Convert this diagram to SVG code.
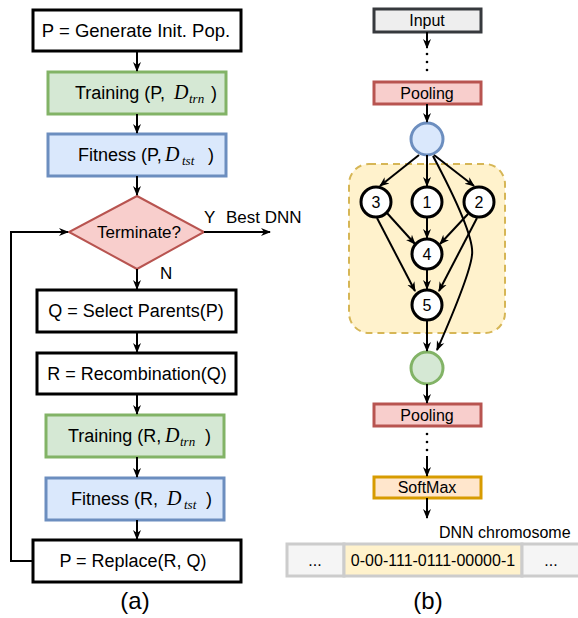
<svg xmlns="http://www.w3.org/2000/svg" width="578" height="618" viewBox="0 0 578 618">
  <style>
    text { font-family: "Liberation Sans", Arial, sans-serif; fill: #000; }
    .lbl { font-size: 17px; text-anchor: middle; }
    .sm { font-size: 16px; text-anchor: middle; }
    .cap { font-size: 24px; text-anchor: middle; }
    .math { font-family: "Liberation Serif", "Times New Roman", serif; font-style: italic; }
    .plain { fill: #fff; stroke: #000; stroke-width: 3; }
    .train { fill: #d5e8d4; stroke: #82b366; stroke-width: 3; }
    .fit { fill: #dae8fc; stroke: #6c8ebf; stroke-width: 3; }
    .pool { fill: #f8cecc; stroke: #b85450; stroke-width: 3; }
    .in { fill: #eeeeee; stroke: #36393d; stroke-width: 3; }
    .soft { fill: #ffe6cc; stroke: #d79b00; stroke-width: 3; }
    .op { fill: #fff; stroke: #000; stroke-width: 3; }
    .edge { fill: none; stroke: #000; stroke-width: 2; marker-end: url(#arr); }
    .seg { stroke: #cccccc; stroke-width: 3; }
  </style>
  <defs>
    <marker id="arr" viewBox="0 0 10 10" refX="9" refY="5" markerWidth="10" markerHeight="10" markerUnits="userSpaceOnUse" orient="auto">
      <path d="M0,1 L10,5 L0,9 L3,5 Z" fill="#000"/>
    </marker>
  </defs>

  <!-- (a) evolutionary loop -->
  <g id="init">
    <rect class="plain" x="33" y="10" width="208" height="41"/>
    <text class="lbl" x="136" y="37" style="font-size:18.5px">P = Generate Init. Pop.</text>
  </g>
  <g id="trainP">
    <rect class="train" x="48" y="72" width="178" height="42"/>
    <text x="75" y="99" style="font-size:18px">Training (P,</text>
    <text class="math" x="174" y="99" style="font-size:20px">D</text>
    <text class="math" x="189" y="103" style="font-size:13px">trn</text>
    <text x="211" y="99" style="font-size:18px">)</text>
  </g>
  <g id="fitP">
    <rect class="fit" x="48" y="134" width="178" height="42"/>
    <text x="78" y="161" style="font-size:18px">Fitness (P,</text>
    <text class="math" x="165" y="161" style="font-size:20px">D</text>
    <text class="math" x="182" y="165" style="font-size:13px">tst</text>
    <text x="208" y="161" style="font-size:18px">)</text>
  </g>
  <g id="terminate">
    <polygon points="137,196 204,232 137,269 69,232" fill="#f8cecc" stroke="#b85450" stroke-width="2"/>
    <text class="lbl" x="139" y="238">Terminate?</text>
  </g>
  <g id="select">
    <rect class="plain" x="37" y="290" width="199" height="42"/>
    <text class="lbl" x="136" y="317" style="font-size:18px">Q = Select Parents(P)</text>
  </g>
  <g id="recomb">
    <rect class="plain" x="37" y="353" width="199" height="41"/>
    <text class="lbl" x="137" y="380" style="font-size:18px">R = Recombination(Q)</text>
  </g>
  <g id="trainR">
    <rect class="train" x="46" y="415" width="178" height="42"/>
    <text x="68" y="442" style="font-size:18px">Training (R,</text>
    <text class="math" x="165" y="442" style="font-size:20px">D</text>
    <text class="math" x="180" y="446" style="font-size:13px">trn</text>
    <text x="205" y="442" style="font-size:18px">)</text>
  </g>
  <g id="fitR">
    <rect class="fit" x="46" y="478" width="178" height="42"/>
    <text x="71" y="505" style="font-size:18px">Fitness (R,</text>
    <text class="math" x="167" y="505" style="font-size:20px">D</text>
    <text class="math" x="184" y="509" style="font-size:13px">tst</text>
    <text x="206" y="505" style="font-size:18px">)</text>
  </g>
  <g id="replace">
    <rect class="plain" x="33" y="540" width="208" height="42"/>
    <text class="lbl" x="133" y="567" style="font-size:18px">P = Replace(R, Q)</text>
  </g>
  <text class="cap" x="135" y="609">(a)</text>

  <!-- (b) network cell and its encoding -->
  <g id="input">
    <rect class="in" x="374" y="9" width="107" height="23"/>
    <text class="sm" x="427" y="26">Input</text>
  </g>
  <g id="pool1">
    <rect class="pool" x="374" y="82" width="107" height="22"/>
    <text class="sm" x="427" y="99">Pooling</text>
  </g>
  <g id="cell">
    <rect x="349" y="164" width="156" height="169" rx="20" ry="20" fill="#fff2cc" stroke="#d6b656" stroke-width="2" stroke-dasharray="7,5"/>
  </g>
  <g id="inNode"><circle cx="427" cy="139" r="16" fill="#dae8fc" stroke="#6c8ebf" stroke-width="3"/></g>
  <g id="n3"><circle class="op" cx="376" cy="202" r="15"/><text class="sm" x="376" y="208">3</text></g>
  <g id="n1"><circle class="op" cx="427" cy="202" r="15"/><text class="sm" x="427" y="208">1</text></g>
  <g id="n2"><circle class="op" cx="479" cy="202" r="15"/><text class="sm" x="479" y="208">2</text></g>
  <g id="n4"><circle class="op" cx="427" cy="254" r="15"/><text class="sm" x="427" y="260">4</text></g>
  <g id="n5"><circle class="op" cx="427" cy="305" r="15"/><text class="sm" x="427" y="311">5</text></g>
  <g id="outNode"><circle cx="427" cy="368" r="16" fill="#d5e8d4" stroke="#82b366" stroke-width="3"/></g>
  <g id="pool2">
    <rect class="pool" x="374" y="404" width="107" height="22"/>
    <text class="sm" x="427" y="421">Pooling</text>
  </g>
  <g id="softmax">
    <rect class="soft" x="374" y="477" width="107" height="21"/>
    <text class="sm" x="427" y="493">SoftMax</text>
  </g>
  <g id="chromosome">
    <text x="439" y="538" style="font-size:16px">DNN chromosome</text>
    <rect class="seg" x="287" y="544" width="57" height="32" fill="#f5f5f5"/>
    <rect class="seg" x="344" y="544" width="178" height="32" fill="#fff2cc"/>
    <rect class="seg" x="522" y="544" width="60" height="32" fill="#f5f5f5"/>
    <text class="sm" x="315" y="566">...</text>
    <text class="sm" x="433" y="566">0-00-111-0111-00000-1</text>
    <text class="sm" x="551" y="566">...</text>
  </g>
  <text class="cap" x="428" y="609">(b)</text>

  <g id="connectors">
    <!-- (a) -->
    <line class="edge" x1="137" y1="51" x2="137" y2="71"/>
    <line class="edge" x1="137" y1="114" x2="137" y2="133"/>
    <line class="edge" x1="137" y1="176" x2="137" y2="195"/>
    <line class="edge" x1="204" y1="232" x2="270" y2="232"/>
    <text x="204" y="223" style="font-size:17px">Y</text>
    <text x="226" y="223" style="font-size:17px">Best DNN</text>
    <line class="edge" x1="137" y1="269" x2="137" y2="289"/>
    <text x="160" y="279" style="font-size:17px">N</text>
    <line class="edge" x1="137" y1="332" x2="137" y2="352"/>
    <line class="edge" x1="137" y1="394" x2="137" y2="414"/>
    <line class="edge" x1="137" y1="457" x2="137" y2="477"/>
    <line class="edge" x1="137" y1="520" x2="137" y2="539"/>
    <polyline class="edge" points="33,561 11,561 11,232 68,232"/>

    <!-- (b) -->
    <line class="edge" x1="427" y1="32" x2="427" y2="48"/>
    <circle cx="427" cy="54" r="1.3"/>
    <circle cx="427" cy="62" r="1.3"/>
    <circle cx="427" cy="70" r="1.3"/>
    <line class="edge" x1="427" y1="104" x2="427" y2="122"/>
    <line class="edge" x1="419" y1="155" x2="380" y2="186"/>
    <line class="edge" x1="427" y1="155" x2="427" y2="186"/>
    <line class="edge" x1="434" y1="155" x2="474" y2="186"/>
    <path class="edge" d="M433,156 Q475,235 472,255 Q470,275 437,350"/>
    <line class="edge" x1="387" y1="213" x2="415" y2="244"/>
    <line class="edge" x1="427" y1="218" x2="427" y2="238"/>
    <line class="edge" x1="468" y1="214" x2="440" y2="244"/>
    <line class="edge" x1="377" y1="218" x2="415" y2="291"/>
    <line class="edge" x1="477" y1="218" x2="439" y2="291"/>
    <line class="edge" x1="427" y1="270" x2="427" y2="289"/>
    <line class="edge" x1="427" y1="321" x2="427" y2="351"/>
    <line class="edge" x1="427" y1="384" x2="427" y2="403"/>
    <circle cx="427" cy="434" r="1.3"/>
    <circle cx="427" cy="442" r="1.3"/>
    <circle cx="427" cy="450" r="1.3"/>
    <line class="edge" x1="427" y1="456" x2="427" y2="476"/>
    <line class="edge" x1="427" y1="498" x2="427" y2="518"/>
  </g>
</svg>
